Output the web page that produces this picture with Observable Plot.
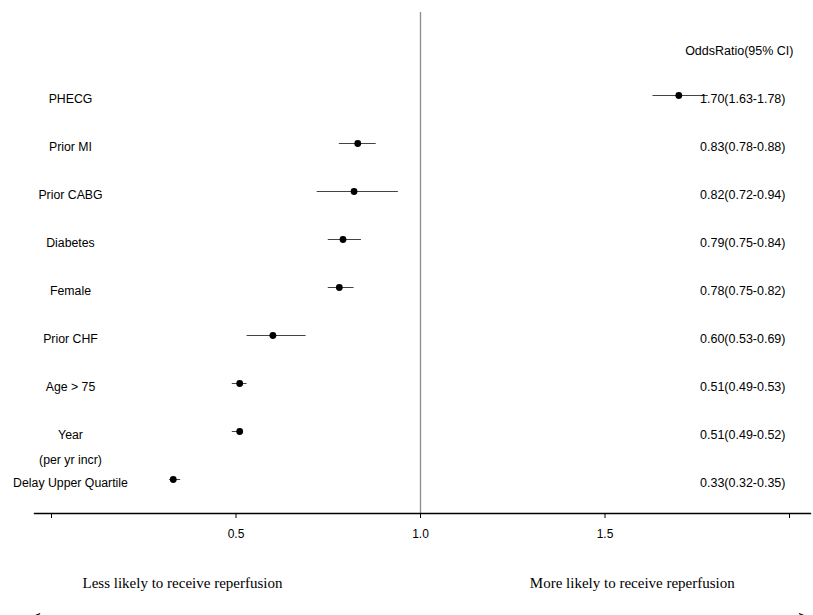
<!DOCTYPE html>
<html><head><meta charset="utf-8">
<script src="https://cdn.jsdelivr.net/npm/d3@7"></script>
<script src="https://cdn.jsdelivr.net/npm/@observablehq/plot@0.6"></script>
<style>html,body{margin:0;padding:0;background:#fff}svg{display:block}</style>
</head><body><div id="chart"></div>
<script>
const categories = ["PHECG","Prior MI","Prior CABG","Diabetes","Female","Prior CHF","Age > 75","Year\n(per yr incr)","Delay Upper Quartile"];
const oddsRatio = [1.70,0.83,0.82,0.79,0.78,0.60,0.51,0.51,0.33];
const ciLow     = [1.63,0.78,0.72,0.75,0.75,0.53,0.49,0.49,0.32];
const ciHigh    = [1.78,0.88,0.94,0.84,0.82,0.69,0.53,0.52,0.35];
const xTicks = [0,0.5,1.0,1.5,2.0];
const xTickLabels = ["","0.5","1.0","1.5",""];
const header = "OddsRatio(95% CI)";
const sideLabels = ["Less likely to receive reperfusion","More likely to receive reperfusion"];

const rows = categories.map((c,i)=>({
  label:c, i, or:oddsRatio[i], lo:ciLow[i], hi:ciHigh[i],
  text:`${oddsRatio[i].toFixed(2)}(${ciLow[i].toFixed(2)}-${ciHigh[i].toFixed(2)})`
}));

const chart = Plot.plot({
  width:813, height:615,
  marginTop:12, marginBottom:102, marginLeft:34, marginRight:3,
  style:{fontFamily:"'Liberation Sans', Arial, sans-serif", fontSize:"12px", background:"#fff", color:"#000"},
  x:{domain:[0,2], range:[51,789], axis:null},
  y:{domain:[0,8], range:[95,479], axis:null},
  marks:[
    Plot.ruleX([1], {stroke:"#8c8c8c", strokeWidth:1.3}),
    Plot.frame({anchor:"bottom", stroke:"#000", strokeWidth:1.3}),
    Plot.axisX(xTicks, {tickFormat:d=>xTickLabels[xTicks.indexOf(d)], tickSize:5, tickPadding:11, fontSize:12, label:null, stroke:"#000"}),
    Plot.ruleY(rows, {y:"i", x1:"lo", x2:"hi", stroke:"#444", strokeWidth:1}),
    Plot.dot(rows, {x:"or", y:"i", r:3.4, fill:"#000", stroke:"none"}),
    Plot.text(rows, {y:"i", text:"label", frameAnchor:"left", dx:36, textAnchor:"middle", lineAnchor:"top", lineHeight:2, dy:-9.5, fontSize:12.3, fill:"#000"}),
    Plot.text(rows, {y:"i", text:"text", frameAnchor:"right", dx:-25, textAnchor:"end", dy:3, fontSize:12.5, fill:"#000"}),
    Plot.text([header], {frameAnchor:"top-right", dx:-17, dy:38, textAnchor:"end", lineAnchor:"middle", fontSize:12.5, fill:"#000"}),
    Plot.text([sideLabels[0]], {x:0.355, y:10.15, text:d=>d, textAnchor:"middle", fontFamily:"'Liberation Serif', 'Times New Roman', serif", fontSize:15, fill:"#000"}),
    Plot.text([sideLabels[1]], {x:1.574, y:10.15, text:d=>d, textAnchor:"middle", fontFamily:"'Liberation Serif', 'Times New Roman', serif", fontSize:15, fill:"#000"}),
    Plot.arrow([{x1:0.92, x2:-0.05}, {x1:1.08, x2:2.045}], {x1:"x1", x2:"x2", y1:10.854, y2:10.854, stroke:"#000", strokeWidth:1.2, headLength:9, headAngle:45, bend:0})
  ]
});
document.getElementById("chart").appendChild(chart);
</script>
</body></html>
